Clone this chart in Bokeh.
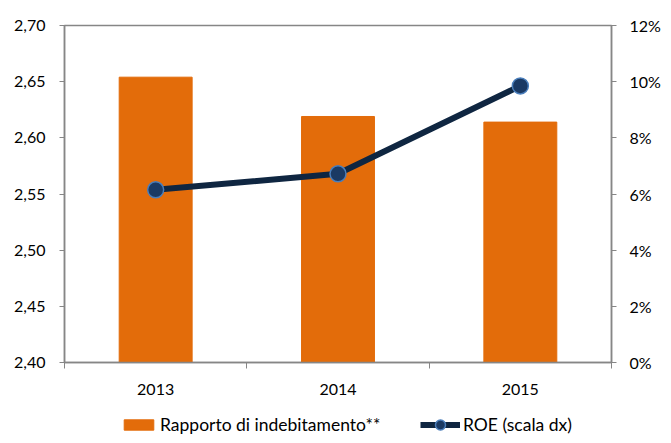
from bokeh.plotting import figure
from bokeh.layouts import column
from bokeh.models import (Range1d, LinearAxis, FixedTicker, Legend, LegendItem,
                          ColumnDataSource, PrintfTickFormatter)
from bokeh.embed import file_html
from bokeh.resources import INLINE

# ---- data ----
years = ["2013", "2014", "2015"]
rapporto = [2.654, 2.619, 2.614]
roe = [6.15, 6.72, 9.85]
left_ticks = [2.40, 2.45, 2.50, 2.55, 2.60, 2.65, 2.70]
left_labels = ["2,40", "2,45", "2,50", "2,55", "2,60", "2,65", "2,70"]
right_ticks = [0, 2, 4, 6, 8, 10, 12]
series_names = ["Rapporto di indebitamento**", "ROE (scala dx)"]

FONT = "Lato"
AXIS_COL = "#868686"
BAR_COL = "#E36C0A"
LINE_COL = "#0F2641"
MARK_FILL = "#1B3A64"
MARK_EDGE = "#4A7EBB"

xs = [i + 0.5 for i in range(len(years))]
src = ColumnDataSource(dict(x=xs, rapporto=rapporto, roe=roe))

W = 663
p = figure(width=W, height=402, output_backend="svg", toolbar_location=None,
           x_range=Range1d(0, len(years)), y_range=Range1d(2.40, 2.70),
           min_border_left=64, min_border_top=25, min_border_right=44,
           min_border_bottom=40)
p.extra_y_ranges = {"roe": Range1d(0, 12)}
p.xgrid.visible = False
p.ygrid.visible = False
p.outline_line_color = AXIS_COL
p.outline_line_width = 1.5
p.background_fill_color = "white"
p.border_fill_color = "white"

p.vbar(x="x", top="rapporto", bottom=2.40, width=0.4, source=src,
       fill_color=BAR_COL, line_color=BAR_COL)
p.line(x="x", y="roe", source=src, y_range_name="roe",
       line_color=LINE_COL, line_width=6)
p.scatter(x="x", y="roe", source=src, y_range_name="roe", size=16,
          fill_color=MARK_FILL, line_color=MARK_EDGE, line_width=1.5)

def style_axis(ax, standoff):
    ax.axis_line_color = AXIS_COL
    ax.axis_line_width = 1.5
    ax.major_label_standoff = standoff
    ax.major_label_text_font = FONT
    ax.major_label_text_font_size = "16px"
    ax.major_label_text_color = "#000000"

# left axis
ya = p.yaxis[0]
ya.ticker = FixedTicker(ticks=left_ticks, minor_ticks=[])
ya.major_label_overrides = {t: l for t, l in zip(left_ticks, left_labels)}
ya.major_tick_line_color = AXIS_COL
ya.major_tick_out = 5
ya.major_tick_in = 0
ya.minor_tick_line_color = None
style_axis(ya, 14)

# right axis
ra = LinearAxis(y_range_name="roe", ticker=FixedTicker(ticks=right_ticks, minor_ticks=[]),
                formatter=PrintfTickFormatter(format="%d%%"))
ra.major_tick_line_color = AXIS_COL
ra.major_tick_out = 5
ra.major_tick_in = 0
ra.minor_tick_line_color = None
style_axis(ra, 13)
p.add_layout(ra, "right")

# bottom axis
xa = p.xaxis[0]
xa.ticker = FixedTicker(ticks=xs, minor_ticks=list(range(len(years) + 1)))
xa.major_label_overrides = {x: y for x, y in zip(xs, years)}
xa.major_tick_line_color = None
xa.minor_tick_line_color = AXIS_COL
xa.minor_tick_out = 6
xa.minor_tick_in = 0
style_axis(xa, 15)

# legend strip below the chart (frame aligned with the chart's frame)
q = figure(width=W, height=33, output_backend="svg", toolbar_location=None,
           x_range=Range1d(0, len(years)), y_range=Range1d(0, 1),
           x_axis_location=None, y_axis_location=None, min_border=0)
q.xgrid.visible = False
q.ygrid.visible = False
q.outline_line_color = None
lb = q.vbar(x="x", top="rapporto", width=0.4, source=src,
            fill_color=BAR_COL, line_color=BAR_COL, visible=False)
ll = q.line(x="x", y="roe", source=src, line_color=LINE_COL, line_width=6, visible=False)
lp = q.scatter(x="x", y="roe", source=src, size=14, fill_color=MARK_FILL,
               line_color=MARK_EDGE, line_width=1.5, visible=False)

common = dict(orientation="horizontal", padding=0, margin=0, spacing=0,
              border_line_color=None, background_fill_alpha=0,
              label_standoff=3, label_text_font=FONT,
              label_text_font_size="17.5px", label_text_color="#000000")
leg1 = Legend(items=[LegendItem(label=series_names[0], renderers=[lb])],
              location=(56, 0), glyph_width=37, glyph_height=13, **common)
leg2 = Legend(items=[LegendItem(label=series_names[1], renderers=[ll, lp])],
              location=(356, -2), glyph_width=40, glyph_height=25, **common)
q.add_layout(leg1, "center")
q.add_layout(leg2, "center")

layout = column(p, q, spacing=0)
open("out.html", "w").write(file_html(layout, INLINE))
